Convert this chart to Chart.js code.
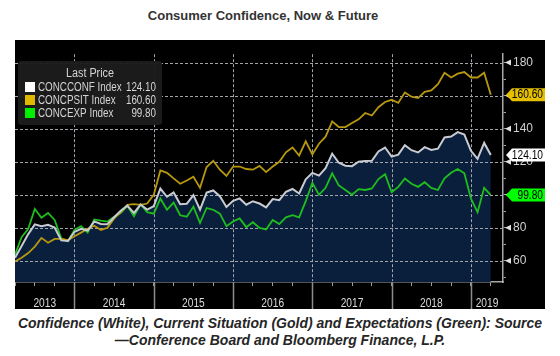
<!DOCTYPE html>
<html>
<head>
<meta charset="utf-8">
<script src="https://cdn.jsdelivr.net/npm/chart.js@4.4.1/dist/chart.umd.min.js"></script>
<style>
  html, body { margin: 0; padding: 0; background: #fff; }
  body { width: 560px; height: 356px; position: relative; overflow: hidden; }
  #title { position: absolute; left: 0; top: 8px; width: 526px; text-align: center;
    font: bold 13px "Liberation Sans", Arial, sans-serif; color: #333; }
  #box { position: absolute; left: 15px; top: 40px; width: 530px; height: 269px; background: #000; }
  #cap { position: absolute; left: 0; top: 315px; width: 560px; text-align: center;
    font: italic bold 14px "Liberation Sans", Arial, sans-serif; color: #262626; line-height: 17px; }
</style>
</head>
<body>
<div id="title">Consumer Confidence, Now &amp; Future</div>
<div id="box"><canvas id="c" width="530" height="269"></canvas></div>
<div id="cap">Confidence (White), Current Situation (Gold) and Expectations (Green): Source<br>—Conference Board and Bloomberg Finance, L.P.</div>
<script>
// ---- categories (monthly, Mar 2013 - Mar 2019) ----
const months = [
  'Mar 2013','Apr 2013','May 2013','Jun 2013','Jul 2013','Aug 2013','Sep 2013','Oct 2013','Nov 2013','Dec 2013',
  'Jan 2014','Feb 2014','Mar 2014','Apr 2014','May 2014','Jun 2014','Jul 2014','Aug 2014','Sep 2014','Oct 2014','Nov 2014','Dec 2014',
  'Jan 2015','Feb 2015','Mar 2015','Apr 2015','May 2015','Jun 2015','Jul 2015','Aug 2015','Sep 2015','Oct 2015','Nov 2015','Dec 2015',
  'Jan 2016','Feb 2016','Mar 2016','Apr 2016','May 2016','Jun 2016','Jul 2016','Aug 2016','Sep 2016','Oct 2016','Nov 2016','Dec 2016',
  'Jan 2017','Feb 2017','Mar 2017','Apr 2017','May 2017','Jun 2017','Jul 2017','Aug 2017','Sep 2017','Oct 2017','Nov 2017','Dec 2017',
  'Jan 2018','Feb 2018','Mar 2018','Apr 2018','May 2018','Jun 2018','Jul 2018','Aug 2018','Sep 2018','Oct 2018','Nov 2018','Dec 2018',
  'Jan 2019','Feb 2019','Mar 2019'
];
const years = ['2013','2014','2015','2016','2017','2018','2019'];

// ---- series ----
const concconf = [
  61.9, 69.0, 76.2, 82.1, 81.0, 81.8, 80.2, 72.4, 72.0, 77.5,
  79.4, 78.3, 83.9, 82.3, 82.2, 86.4, 90.3, 93.4, 89.0, 94.1, 91.0, 93.1,
  103.8, 98.8, 101.4, 94.3, 94.6, 99.8, 91.0, 101.3, 102.6, 99.1, 92.6, 96.3,
  97.8, 94.0, 96.1, 94.7, 92.4, 97.4, 96.7, 101.8, 103.5, 100.8, 109.4, 113.3,
  111.6, 116.1, 124.9, 119.4, 117.6, 117.3, 120.0, 120.4, 120.6, 126.2, 128.6, 123.1,
  124.3, 130.0, 127.0, 125.6, 128.8, 127.1, 127.9, 134.7, 135.3, 137.9, 136.4, 126.6,
  121.7, 131.4, 124.1
];
const concpsit = [
  59.6, 61.9, 64.7, 68.6, 73.9, 71.0, 73.3, 73.3, 72.5, 74.9,
  77.1, 79.4, 81.3, 78.7, 80.0, 85.7, 89.5, 93.9, 94.3, 93.9, 94.7, 100.0,
  114.7, 113.3, 109.9, 106.7, 108.6, 110.9, 104.2, 116.8, 120.6, 115.2, 111.4, 117.1,
  117.1, 115.6, 115.2, 117.5, 113.7, 117.1, 120.0, 125.7, 128.6, 123.8, 132.4, 124.4,
  130.9, 135.2, 144.4, 141.0, 141.0, 143.4, 145.7, 149.5, 148.0, 153.0, 156.2, 157.5,
  155.6, 161.9, 159.4, 158.5, 162.3, 163.2, 167.0, 173.9, 171.0, 173.3, 174.3, 171.0,
  171.0, 173.9, 160.6
];
const concexp = [
  63.8, 74.3, 79.4, 91.4, 86.1, 89.0, 84.8, 73.7, 71.8, 78.7,
  81.0, 77.1, 85.1, 84.4, 83.8, 86.7, 89.0, 93.3, 87.0, 94.3, 89.5, 88.6,
  97.7, 90.9, 95.3, 87.6, 86.7, 92.8, 82.9, 92.0, 90.9, 88.6, 81.0, 83.8,
  85.7, 80.4, 83.4, 80.0, 79.0, 84.8, 82.3, 86.3, 87.6, 86.3, 96.2, 107.2,
  100.0, 104.2, 113.0, 105.7, 102.9, 100.0, 103.4, 102.9, 103.8, 109.5, 112.4, 101.5,
  104.8, 109.9, 106.7, 104.8, 107.6, 104.2, 102.9, 109.9, 113.3, 115.6, 113.0, 97.7,
  89.5, 104.2, 99.8
];
const seriesNames = ['CONCCONF Index', 'CONCPSIT Index', 'CONCEXP Index'];
const lastPrices = ['124.10', '160.60', '99.80'];

// ---- axis ticks ----
const yTickValues = [50, 60, 70, 80, 90, 100, 110, 120, 130, 140, 150, 160, 170, 180];
const yMajor = [60, 80, 100, 120, 140, 160, 180];

// ---- styles ----
const lineColors = ['#c8cbd2', '#b8980e', '#1ebe1e'];
const tagColors = ['#ffffff', '#e6c000', '#00ff00'];
const legendSwatch = ['#ffffff', '#e0b800', '#00ee00'];

const yearBounds = months.map((m, i) => m.startsWith('Dec') ? i : -1).filter(i => i >= 0);
const quarterTicks = months.map((m, i) => i).filter(i => i % 3 === 0);
const toXY = arr => arr.map((v, i) => ({ x: i, y: v }));

const FONT = '"Liberation Sans", Arial, sans-serif';

// draw horizontally condensed text (the reference uses a narrow face)
function narrowText(ctx, text, x, y, align, sx) {
  ctx.save();
  ctx.translate(x, y);
  ctx.scale(sx, 1);
  ctx.textAlign = align;
  ctx.fillText(text, 0, 0);
  ctx.restore();
}

// dashed grid, drawn after the area fill and before the lines
function drawGridLines(chart) {
  const ctx = chart.ctx;
  const xs = chart.scales.x, ys = chart.scales.y;
  const ca = chart.chartArea;
  ctx.save();
  ctx.strokeStyle = '#a4a4ac';
  ctx.lineWidth = 1;
  ctx.setLineDash([3, 2]);
  yMajor.forEach(v => {
    const py = Math.round(ys.getPixelForValue(v)) + 0.5;
    ctx.beginPath(); ctx.moveTo(ca.left, py); ctx.lineTo(ca.right - 1, py); ctx.stroke();
  });
  yearBounds.forEach(b => {
    const px = Math.round(xs.getPixelForValue(b)) + 0.5;
    ctx.beginPath(); ctx.moveTo(px, ca.top); ctx.lineTo(px, ca.bottom - 1); ctx.stroke();
  });
  ctx.restore();
}

const decor = {
  id: 'decor',
  beforeDatasetsDraw(chart) {
    drawGridLines(chart);
  },
  afterDraw(chart) {
    const ctx = chart.ctx;
    const xs = chart.scales.x, ys = chart.scales.y;
    const ca = chart.chartArea;
    const H = chart.height, W = chart.width;
    ctx.save();
    ctx.textBaseline = 'middle';
    // year separators in bottom band
    ctx.strokeStyle = '#8c8c8c';
    ctx.lineWidth = 1.5;
    yearBounds.forEach(b => {
      const px = Math.round(xs.getPixelForValue(b)) + 0.5;
      ctx.beginPath(); ctx.moveTo(px, ca.bottom); ctx.lineTo(px, H); ctx.stroke();
    });
    // year labels
    ctx.fillStyle = '#dcdcdc';
    ctx.font = '12px ' + FONT;
    years.forEach((yr, k) => {
      const s = k === 0 ? xs.min : yearBounds[k - 1];
      const e = k < yearBounds.length ? yearBounds[k] : xs.max;
      const px = (xs.getPixelForValue(s) + xs.getPixelForValue(e)) / 2;
      narrowText(ctx, yr, px, ca.bottom + 22, 'center', 0.85);
    });
    // small markers at major y labels
    ctx.fillStyle = '#e0e0e0';
    yMajor.forEach(v => {
      const py = ys.getPixelForValue(v);
      ctx.beginPath();
      ctx.moveTo(ca.right + 2, py);
      ctx.lineTo(ca.right + 8, py - 3);
      ctx.lineTo(ca.right + 8, py + 3);
      ctx.closePath(); ctx.fill();
    });
    // last value tags
    const series = [concconf, concpsit, concexp];
    ctx.font = '12px ' + FONT;
    series.forEach((arr, k) => {
      const py = ys.getPixelForValue(arr[arr.length - 1]);
      const x0 = ca.right + 3, x1 = ca.right + 9, x2 = W;
      const h = 6.5;
      ctx.fillStyle = tagColors[k];
      ctx.beginPath();
      ctx.moveTo(x0, py);
      ctx.lineTo(x1, py - h);
      ctx.lineTo(x2, py - h);
      ctx.lineTo(x2, py + h);
      ctx.lineTo(x1, py + h);
      ctx.closePath(); ctx.fill();
      ctx.fillStyle = '#000';
      narrowText(ctx, lastPrices[k], W - 2, py + 0.5, 'right', 0.85);
    });
    // legend box
    const bx = 3, by = 21, bw = 144, bh = 64;
    ctx.fillStyle = 'rgba(28,28,28,0.96)';
    ctx.beginPath();
    if (ctx.roundRect) ctx.roundRect(bx, by, bw, bh, 3); else ctx.rect(bx, by, bw, bh);
    ctx.fill();
    ctx.fillStyle = '#d4d4d4';
    ctx.font = '12px ' + FONT;
    narrowText(ctx, 'Last Price', bx + 72, by + 13, 'center', 0.9);
    seriesNames.forEach((name, k) => {
      const ry = by + 26 + k * 13;
      ctx.fillStyle = legendSwatch[k];
      ctx.fillRect(bx + 7, ry - 5, 10, 10);
      ctx.fillStyle = '#d4d4d4';
      narrowText(ctx, name, bx + 20, ry + 0.5, 'left', 0.82);
      narrowText(ctx, lastPrices[k], bx + 138, ry + 0.5, 'right', 0.82);
    });
    ctx.restore();
  }
};

new Chart(document.getElementById('c'), {
  type: 'line',
  data: {
    labels: months,
    datasets: [
      { label: seriesNames[0], data: toXY(concconf), borderColor: lineColors[0], borderWidth: 2,
        fill: 'start', backgroundColor: '#0a1f3c', pointRadius: 0, tension: 0 },
      { label: seriesNames[1], data: toXY(concpsit), borderColor: lineColors[1], borderWidth: 1.8,
        fill: false, pointRadius: 0, tension: 0 },
      { label: seriesNames[2], data: toXY(concexp), borderColor: lineColors[2], borderWidth: 1.8,
        fill: false, pointRadius: 0, tension: 0 }
    ]
  },
  options: {
    responsive: false,
    animation: false,
    devicePixelRatio: 1,
    layout: { padding: 0 },
    plugins: {
      legend: { display: false }, tooltip: { enabled: false }, title: { display: false },
      filler: { drawTime: 'beforeDatasetsDraw' }
    },
    scales: {
      x: {
        type: 'linear', min: 0, max: 73.85,
        afterBuildTicks: s => { s.ticks = quarterTicks.map(v => ({ value: v })); },
        afterFit: s => { s.height = 27; },
        ticks: { callback: () => '', padding: 0, maxRotation: 0 },
        grid: { drawOnChartArea: false, tickColor: '#a0a0a0', tickLength: 4, drawTicks: true },
        border: { display: true, color: '#a8a8a8', width: 1.5 }
      },
      y: {
        position: 'right', min: 47.2, max: 185.1,
        afterBuildTicks: s => { s.ticks = yTickValues.map(v => ({ value: v })); },
        afterFit: s => { s.width = 42; },
        ticks: {
          callback: v => yMajor.includes(v) ? String(v) : '',
          color: '#d0d0d0', padding: 7,
          font: { size: 12, family: FONT }
        },
        grid: { drawOnChartArea: false, tickColor: '#a0a0a0', tickLength: 3 },
        border: { display: true, color: '#a8a8a8', width: 1.5 }
      }
    }
  },
  plugins: [decor]
});
</script>
</body>
</html>
